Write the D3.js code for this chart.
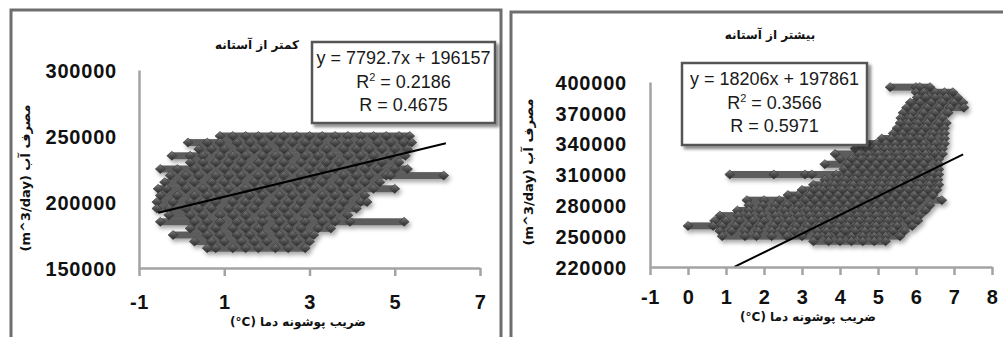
<!DOCTYPE html>
<html><head><meta charset="utf-8">
<script src="https://cdn.jsdelivr.net/npm/d3@7/dist/d3.min.js"></script>
<style>
html,body{margin:0;padding:0;background:#fff;}
svg{display:block;}
</style></head>
<body>
<svg id="chart" width="1003" height="337"></svg>
<script>
// ---------- DATA ----------
const leftTitle = "کمتر از آستانه";
const rightTitle = "بیشتر از آستانه";
const xAxisTitle = "(°C) ضریب پوشونه دما";
const yAxisTitle = "(m^3/day) مصرف آب";

const leftXTicks = [-1, 1, 3, 5, 7];
const leftYTicks = [150000, 200000, 250000, 300000];
const rightXTicks = [-1, 0, 1, 2, 3, 4, 5, 6, 7, 8];
const rightYTicks = [220000, 250000, 280000, 310000, 340000, 370000, 400000];

const leftEq = ["y = 7792.7x + 196157", "0.2186", "R = 0.4675"];
const rightEq = ["y = 18206x + 197861", "0.3566", "R = 0.5971"];
const leftSlope = 7792.7, leftIntercept = 196157, leftTrendX = [-0.55, 6.2];
const rightSlope = 18206, rightIntercept = 197861, rightTrendX = [1.22, 7.24];

// rows of observations: water use (m3/day) and the temperature values observed at that level
const leftRowY = [250000,245000,240000,235000,230000,225000,220000,215000,210000,205000,200000,195000,190000,185000,180000,175000,170000,165000];
const leftRowX = [
  [0.9,1.2,1.5,1.8,2.1,2.4,2.7,3.0,3.3,3.6,3.9,4.2,4.5,4.8,5.1,5.35],
  [0.15,0.6,0.9,1.3,1.6,1.9,2.3,2.6,2.9,3.2,3.6,3.9,4.2,4.6,4.9,5.2,5.4],
  [0.4,0.7,1.0,1.4,1.7,2.0,2.4,2.8,3.1,3.4,3.8,4.1,4.4,4.7,5.0,5.3],
  [-0.23,0.2,0.5,0.9,1.2,1.5,1.9,2.2,2.5,2.9,3.2,3.5,3.9,4.2,4.5,4.9,5.25],
  [0.2,0.5,0.8,1.1,1.4,1.8,2.1,2.4,2.8,3.1,3.4,3.7,4.1,4.4,4.7,5.1],
  [-0.5,-0.1,0.3,0.6,1.0,1.3,1.6,2.0,2.3,2.6,3.0,3.3,3.6,4.0,4.3,4.6,5.0,5.3],
  [-0.27,0.1,0.4,0.8,1.1,1.4,1.8,2.1,2.4,2.8,3.1,3.4,3.8,4.1,4.4,4.8,4.9,6.15],
  [-0.4,0.0,0.3,0.7,1.0,1.3,1.7,2.0,2.3,2.7,3.0,3.3,3.7,4.0,4.3,4.65],
  [-0.55,-0.35,0.1,0.5,0.8,1.1,1.5,1.8,2.1,2.5,2.8,3.1,3.5,3.8,4.1,4.5,5.0],
  [-0.5,-0.1,0.3,0.6,0.9,1.3,1.6,1.9,2.3,2.6,2.9,3.3,3.6,3.9,4.3],
  [-0.58,-0.2,0.2,0.5,0.8,1.2,1.5,1.8,2.2,2.5,2.8,3.2,3.5,3.8,4.2,4.35],
  [-0.58,-0.3,0.1,0.4,0.7,1.1,1.4,1.7,2.1,2.4,2.7,3.1,3.4,3.7,4.1],
  [-0.3,0.2,0.5,0.9,1.2,1.5,1.9,2.2,2.5,2.9,3.2,3.5,3.9],
  [-0.5,0.3,0.6,0.9,1.3,1.6,1.9,2.3,2.6,2.9,3.3,3.6,3.95,5.22],
  [0.2,0.5,0.8,1.2,1.5,1.8,2.2,2.5,2.8,3.2,3.5],
  [-0.2,0.6,0.9,1.3,1.6,1.9,2.3,2.6,2.9,3.1],
  [0.3,0.7,1.0,1.4,1.7,2.0,2.4,2.7,3.0],
  [0.6,0.8,1.2,1.5,1.8,2.2,2.5,2.9]
];

const rightRowY = [395000,390000,385000,380000,375000,370000,365000,360000,355000,350000,345000,340000,335000,330000,325000,320000,315000,310000,305000,300000,295000,290000,285000,280000,275000,270000,265000,260000,255000,250000,245000];
const rightRowX = [
  [5.32,6.0,6.1,6.37],
  [6.0,6.2,6.5,6.75,6.97],
  [6.03,6.25,6.5,6.8,7.1],
  [5.85,6.1,6.4,6.7,7.0,7.24],
  [5.75,6.0,6.3,6.6,6.9,7.26],
  [5.66,5.9,6.2,6.5,6.85],
  [5.6,5.85,6.1,6.4,6.7],
  [5.58,5.8,6.05,6.3,6.6,6.8],
  [5.5,5.75,6.0,6.25,6.5,6.75],
  [5.4,5.65,5.9,6.15,6.45,6.75],
  [5.1,5.35,5.6,5.85,6.1,6.4,6.75],
  [4.7,4.95,5.2,5.45,5.7,5.95,6.2,6.5,6.75],
  [4.4,4.7,4.95,5.2,5.45,5.7,5.95,6.2,6.45,6.7],
  [3.87,4.5,4.75,5.0,5.25,5.5,5.75,6.0,6.25,6.5,6.7],
  [4.0,4.3,4.55,4.8,5.05,5.3,5.55,5.8,6.05,6.3,6.6],
  [3.6,4.2,4.45,4.7,4.95,5.2,5.45,5.7,5.95,6.2,6.6],
  [4.1,4.35,4.6,4.85,5.1,5.35,5.6,5.85,6.1,6.35,6.6],
  [1.1,2.26,3.08,3.26,3.9,4.2,4.45,4.7,4.95,5.2,5.45,5.7,5.95,6.2,6.45,6.6],
  [3.6,3.9,4.15,4.4,4.65,4.9,5.15,5.4,5.65,5.9,6.15,6.4,6.58],
  [3.3,3.6,3.85,4.1,4.35,4.6,4.85,5.1,5.35,5.6,5.85,6.1,6.35,6.6],
  [3.0,3.3,3.55,3.8,4.05,4.3,4.55,4.8,5.05,5.3,5.55,5.8,6.05,6.3,6.55],
  [2.63,2.9,3.2,3.45,3.7,3.95,4.2,4.45,4.7,4.95,5.2,5.45,5.7,5.95,6.2,6.45],
  [1.55,2.0,2.4,2.8,3.1,3.35,3.6,3.85,4.1,4.35,4.6,4.85,5.1,5.35,5.6,5.85,6.1,6.68],
  [1.6,1.97,2.3,2.6,2.9,3.2,3.45,3.7,3.95,4.2,4.45,4.7,4.95,5.2,5.45,5.7,5.95,6.37],
  [1.3,1.6,1.9,2.25,2.55,2.85,3.15,3.4,3.65,3.9,4.15,4.4,4.65,4.9,5.15,5.4,5.65,5.9,6.25],
  [0.84,1.32,1.6,1.95,2.3,2.6,2.9,3.2,3.45,3.7,3.95,4.2,4.45,4.7,4.95,5.2,5.45,5.7,6.1],
  [0.7,1.0,1.35,1.7,2.0,2.35,2.65,2.95,3.25,3.5,3.75,4.0,4.25,4.5,4.75,5.0,5.25,5.5,5.8,6.05],
  [0.0,0.66,0.9,1.25,1.6,1.9,2.25,2.55,2.85,3.15,3.45,3.7,3.95,4.2,4.45,4.7,4.95,5.2,5.5,5.9],
  [0.84,1.15,1.5,1.85,2.2,2.5,2.8,3.1,3.4,3.65,3.9,4.15,4.4,4.65,4.9,5.15,5.4,5.7],
  [0.9,1.5,1.8,2.2,2.6,3.0,3.4,3.7,4.0,4.3,4.6,4.9,5.2,5.58],
  [3.3,3.7,4.0,4.3,4.6,4.9,5.2]
];

// ---------- DRAW ----------
const svg = d3.select("#chart");
const defs = svg.append("defs");
const grad = defs.append("linearGradient").attr("id","dg").attr("x1",0).attr("y1",0).attr("x2",0).attr("y2",1);
grad.append("stop").attr("offset","0%").attr("stop-color","#808080");
grad.append("stop").attr("offset","50%").attr("stop-color","#4e4e4e");
grad.append("stop").attr("offset","100%").attr("stop-color","#2a2a2a");
const sh = defs.append("filter").attr("id","sh").attr("x","-10%").attr("y","-10%").attr("width","130%").attr("height","140%");
sh.append("feDropShadow").attr("dx",2).attr("dy",3).attr("stdDeviation",2).attr("flood-color","#000").attr("flood-opacity",0.35);
const bsh = defs.append("filter").attr("id","bsh").attr("x","-10%").attr("y","-10%").attr("width","130%").attr("height","140%");
bsh.append("feDropShadow").attr("dx",3).attr("dy",3).attr("stdDeviation",1.5).attr("flood-color","#000").attr("flood-opacity",0.45);

const persianFont = "'DejaVu Sans', sans-serif";
const numFont = "'Liberation Sans', Arial, sans-serif";
const diamond = "M0,-4.5L5,0L0,4.5L-5,0Z";

// frames
const frameColor = "#6e6e6e";
svg.append("path").attr("d","M11,337V10H501V337").attr("fill","none").attr("stroke",frameColor).attr("stroke-width",3);
svg.append("path").attr("d","M511,337V12H1003").attr("fill","none").attr("stroke",frameColor).attr("stroke-width",3);

function panel(cfg) {
  const x = d3.scaleLinear().domain(cfg.xDomain).range(cfg.xRange);
  const y = d3.scaleLinear().domain(cfg.yDomain).range(cfg.yRange);
  const g = svg.append("g");

  // scatter: horizontal bands per row + diamonds
  const rows = cfg.rowY.map((v,i)=>({y:v, xs:cfg.rowX[i]}));
  const cloud = g.append("g").attr("filter","url(#sh)");
  cloud.selectAll("rect.band").data(rows).join("rect")
    .attr("x", d=>x(d3.min(d.xs)))
    .attr("width", d=>x(d3.max(d.xs))-x(d3.min(d.xs)))
    .attr("y", d=>y(d.y)-3.5).attr("height",7)
    .attr("fill","#5c5c5c");
  const pts = rows.flatMap(r=>r.xs.map(v=>({x:v,y:r.y})));
  cloud.selectAll("path.pt").data(pts).join("path")
    .attr("d", diamond)
    .attr("transform", d=>`translate(${x(d.x)},${y(d.y)})`)
    .attr("fill","url(#dg)").attr("stroke","#333").attr("stroke-width",0.6);

  // trend line
  const tl = cfg.trendX.map(v=>({x:v, y:cfg.slope*v+cfg.intercept}));
  g.append("path").datum(tl)
    .attr("d", d3.line().x(d=>x(d.x)).y(d=>y(d.y)))
    .attr("stroke","#000").attr("stroke-width",2).attr("fill","none");

  // axes
  const xa = g.append("g").attr("transform",`translate(0,${cfg.yRange[0]})`)
    .call(d3.axisBottom(x).tickValues(cfg.xTicks).tickSize(8).tickSizeOuter(0).tickFormat(d=>String(d)));
  xa.select(".domain").attr("stroke","#a3a3a3").attr("stroke-width",2.5);
  xa.selectAll(".tick line").attr("stroke","#a3a3a3").attr("stroke-width",2.5);
  xa.selectAll(".tick text").attr("y",cfg.xLabelOffset).attr("dy","0.35em")
    .attr("font-family",numFont).attr("font-weight","bold").attr("font-size",20).attr("fill","#111")
    .attr("letter-spacing",0.5);

  const ya = g.append("g").attr("transform",`translate(${cfg.xRange[0]},0)`)
    .call(d3.axisLeft(y).tickValues(cfg.yTicks).tickSize(0).tickSizeOuter(0).tickPadding(cfg.xRange[0]-cfg.yLabelRight).tickFormat(d=>String(d)));
  ya.select(".domain").attr("stroke","#a3a3a3").attr("stroke-width",2.5);
  ya.selectAll(".tick text").attr("dy","0.36em")
    .attr("font-family",numFont).attr("font-weight","bold").attr("font-size",20).attr("fill","#111")
    .attr("letter-spacing",0.8);

  // title
  g.append("text").attr("x",cfg.titlePos[0]).attr("y",cfg.titlePos[1]).attr("text-anchor","middle")
    .attr("font-family",persianFont).attr("font-weight","bold").attr("font-size",12).attr("fill","#111")
    .text(cfg.title);

  // axis titles
  g.append("text").attr("x",cfg.xTitlePos[0]).attr("y",cfg.xTitlePos[1]).attr("text-anchor","middle")
    .attr("font-family",persianFont).attr("font-weight","bold").attr("font-size",12).attr("fill","#111")
    .attr("direction","ltr")
    .text(xAxisTitle);
  g.append("text").attr("transform",`translate(${cfg.yTitlePos[0]},${cfg.yTitlePos[1]}) rotate(-90)`)
    .attr("text-anchor","middle")
    .attr("font-family",persianFont).attr("font-weight","bold").attr("font-size",13).attr("fill","#111")
    .text(yAxisTitle);

  // equation box
  const b = cfg.box;
  g.append("rect").attr("x",b[0]).attr("y",b[1]).attr("width",b[2]).attr("height",b[3])
    .attr("fill","#fff").attr("stroke","#555").attr("stroke-width",2.5).attr("filter","url(#bsh)");
  const cx = b[0]+b[2]/2;
  g.append("text").attr("x",cx).attr("y",b[1]+cfg.eqLines[0]).attr("text-anchor","middle")
    .attr("font-family",numFont).attr("font-size",18).attr("fill","#1a1a1a").text(cfg.eq[0]);
  const t2 = g.append("text").attr("x",cx).attr("y",b[1]+cfg.eqLines[1]).attr("text-anchor","middle")
    .attr("font-family",numFont).attr("font-size",18).attr("fill","#1a1a1a");
  t2.append("tspan").text("R");
  t2.append("tspan").attr("dy",-7).attr("font-size",11).text("2");
  t2.append("tspan").attr("dy",7).text(" = " + cfg.eq[1]);
  g.append("text").attr("x",cx).attr("y",b[1]+cfg.eqLines[2]).attr("text-anchor","middle")
    .attr("font-family",numFont).attr("font-size",18).attr("fill","#1a1a1a").text(cfg.eq[2]);
}

panel({
  xDomain:[-1,7], xRange:[139,480], yDomain:[150000,300000], yRange:[268,70],
  rowY:leftRowY, rowX:leftRowX, slope:leftSlope, intercept:leftIntercept, trendX:leftTrendX,
  xTicks:leftXTicks, yTicks:leftYTicks, xLabelOffset:34, yLabelRight:117,
  title:leftTitle, titlePos:[257,49], xTitlePos:[298,326], yTitlePos:[30,178],
  box:[312,42,183,81], eqLines:[22,46,69], eq:leftEq
});
panel({
  xDomain:[-1,8], xRange:[650,992], yDomain:[220000,400000], yRange:[267,82],
  rowY:rightRowY, rowX:rightRowX, slope:rightSlope, intercept:rightIntercept, trendX:rightTrendX,
  xTicks:rightXTicks, yTicks:rightYTicks, xLabelOffset:30, yLabelRight:627,
  title:rightTitle, titlePos:[770,39], xTitlePos:[808,321], yTitlePos:[533,172],
  box:[682,63,185,82], eqLines:[22,46,69], eq:rightEq
});
</script>
</body></html>
